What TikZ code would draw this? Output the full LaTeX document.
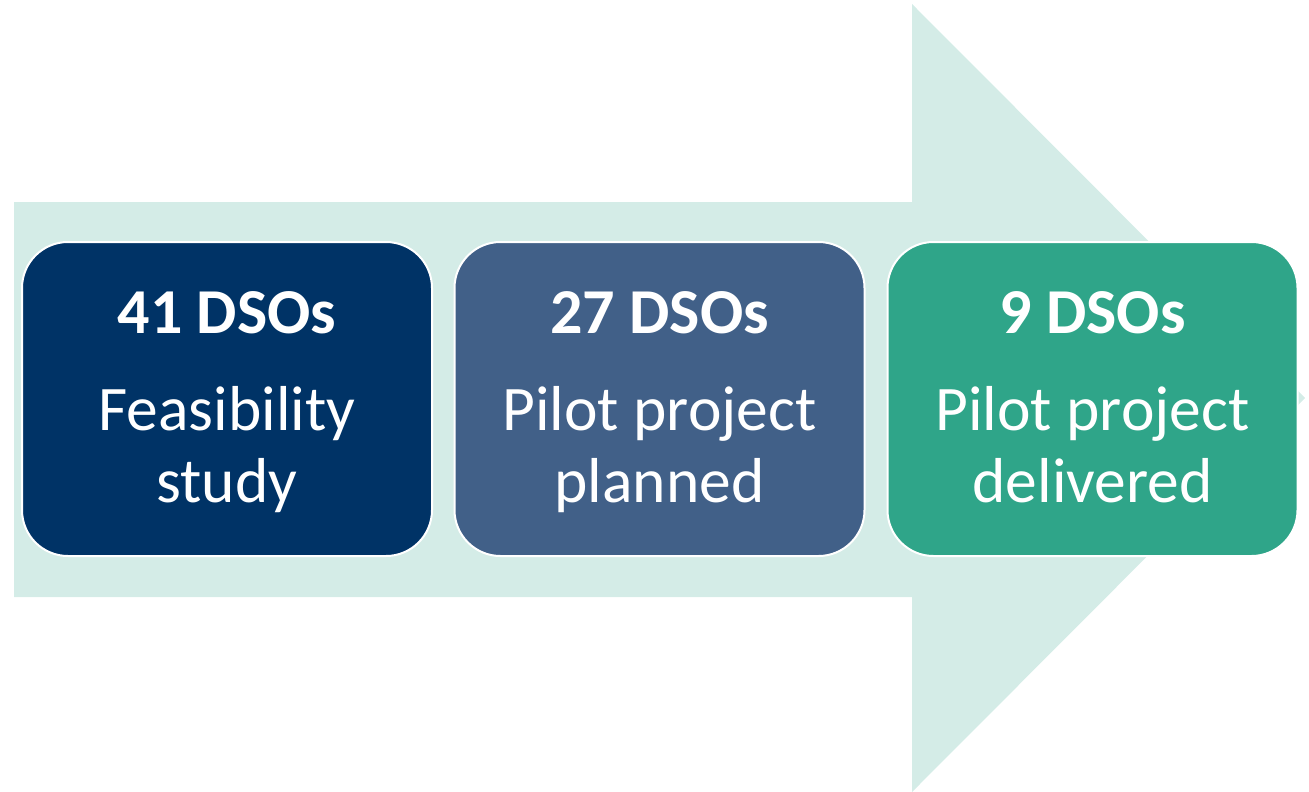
\documentclass[tikz,border=0pt]{standalone}
\usepackage{fontspec}
\setmainfont{Carlito}
\usetikzlibrary{positioning}

\definecolor{arrowbg}{HTML}{D4ECE7}
\definecolor{dsoone}{HTML}{003366}
\definecolor{dsotwo}{HTML}{416088}
\definecolor{dsothree}{HTML}{2FA589}

\tikzset{
    stage/.style={draw=white, line width=2pt, rounded corners=46pt, minimum width=410pt, minimum height=314pt, inner sep=0pt},
    headtxt/.style={text=white, anchor=base, font=\fontsize{64}{72}\selectfont\bfseries, inner sep=0pt},
    bodytxt/.style={text=white, anchor=base, font=\fontsize{63.5}{72}\selectfont, inner sep=0pt}
}

\begin{document}
\begin{tikzpicture}[x=1pt, y=-1pt]
            \useasboundingbox (0,0) rectangle (1309,792);
            \fill[arrowbg] (14,202) -- (912,202) -- (912,4) -- (1305,398) -- (912,792) -- (912,597) -- (14,597) -- cycle;

            % Feasibility
            \node[stage, fill=dsoone] (b1) at (227,399) {};
            \node[headtxt] (h1) at ([yshift=66pt]b1.center) {41 DSOs};
            \node[bodytxt] (t1) at ([yshift=-31pt]b1.center) {Feasibility};
            \node[bodytxt] (u1) at ([yshift=-103pt]b1.center) {study};

            % Planned
            \node[stage, fill=dsotwo] (b2) at (659.5,399) {};
            \node[headtxt] (h2) at ([yshift=66pt]b2.center) {27 DSOs};
            \node[bodytxt] (t2) at ([yshift=-31pt]b2.center) {Pilot project};
            \node[bodytxt] (u2) at ([yshift=-103pt]b2.center) {planned};

            % Delivered
            \node[stage, fill=dsothree] (b3) at (1092.5,399) {};
            \node[headtxt] (h3) at ([yshift=66pt]b3.center) {9 DSOs};
            \node[bodytxt] (t3) at ([yshift=-31pt]b3.center) {Pilot project};
            \node[bodytxt] (u3) at ([yshift=-103pt]b3.center) {delivered};
\end{tikzpicture}
\end{document}
